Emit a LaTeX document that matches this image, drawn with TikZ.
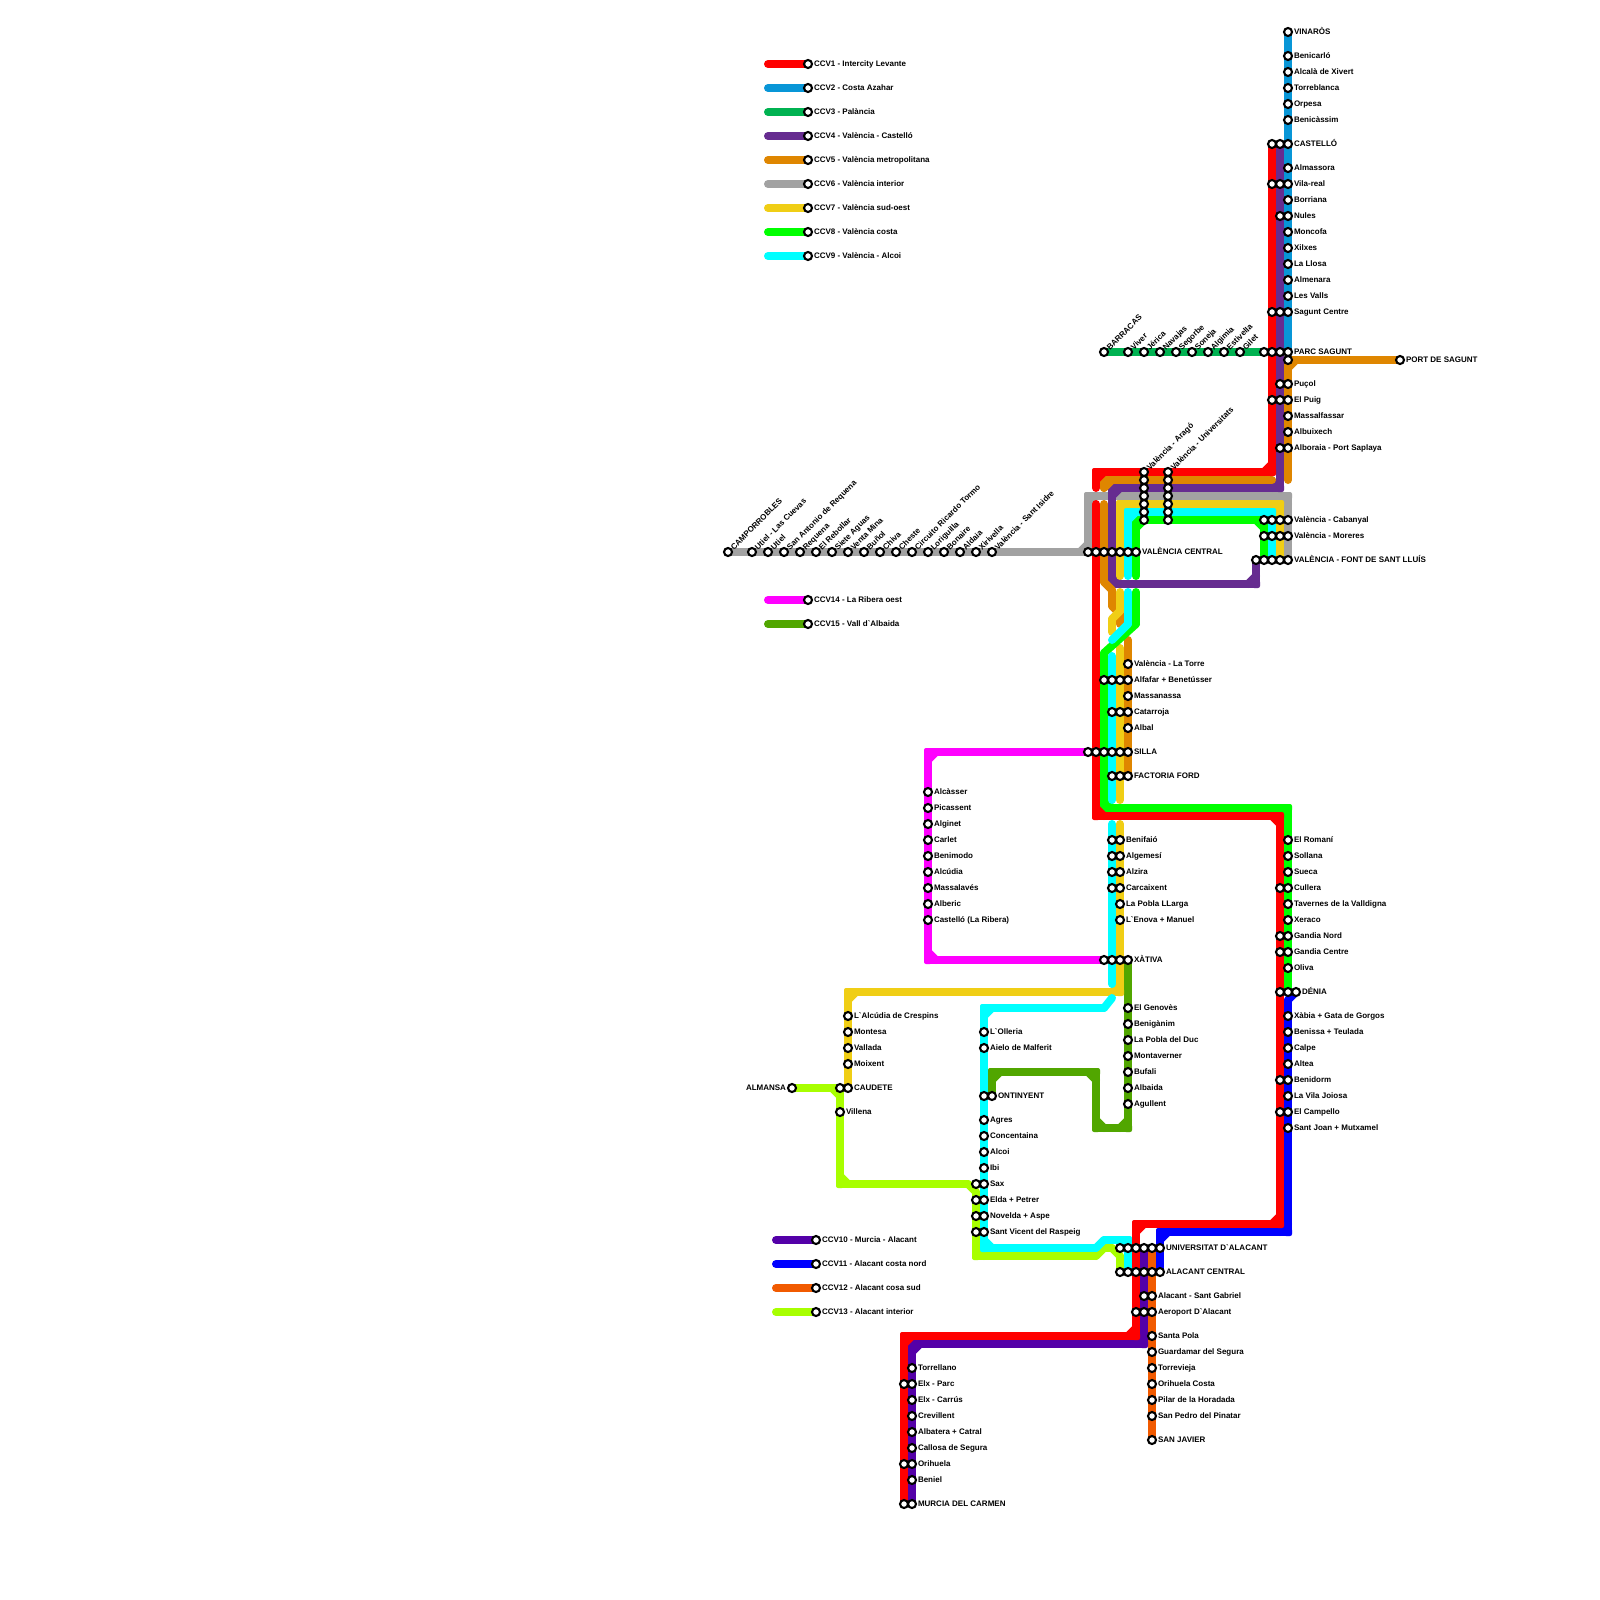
\documentclass[tikz,border=0pt]{standalone}
\usepackage{fontspec}
\usetikzlibrary{calc}
\newfontfamily\mapfont{Liberation Sans}
\definecolor{ccvA}{HTML}{FF0000}
\definecolor{ccvB}{HTML}{0896D7}
\definecolor{ccvC}{HTML}{00B251}
\definecolor{ccvD}{HTML}{662C90}
\definecolor{ccvE}{HTML}{DF8600}
\definecolor{ccvF}{HTML}{A2A2A2}
\definecolor{ccvG}{HTML}{F0CE15}
\definecolor{ccvH}{HTML}{00FF00}
\definecolor{ccvI}{HTML}{00FFFF}
\definecolor{ccvJ}{HTML}{5400A8}
\definecolor{ccvK}{HTML}{0000FF}
\definecolor{ccvL}{HTML}{F15A00}
\definecolor{ccvM}{HTML}{A8FF00}
\definecolor{ccvN}{HTML}{FF00FF}
\definecolor{ccvO}{HTML}{51A600}
\tikzset{
  ml/.style={line width=8pt,line cap=round,line join=round},
  stn/.style={circle,draw=black,fill=white,line width=2.1pt,minimum size=8pt,inner sep=0pt,outer sep=0pt},
  lab/.style={font=\mapfont\bfseries\fontsize{8}{9}\selectfont,text=black,inner sep=0pt,outer sep=0pt},
}
% orthogonal run: segments, chamfered inner corners, nearly square outer corners
\newcommand\Lin[2]{%
  \gdef\LNa{}\gdef\LNb{}%
  \foreach \LNc in {#2}{%
    \ifx\LNa\empty\else
      \draw[ml,#1] (\LNa) -- (\LNc);
      \ifx\LNb\empty\else
        \draw[ml,#1] ($(\LNa)!8pt!(\LNb)$) -- ($(\LNa)!8pt!(\LNc)$);
        \fill[#1,rounded corners=2pt] ($(\LNa)+(-4,-4)$) rectangle ($(\LNa)+(4,4)$);
      \fi
    \fi
    \global\let\LNb\LNa
    \xdef\LNa{\LNc}%
  }}
% run with diagonal segments: plain round joins
\newcommand\LinD[2]{%
  \gdef\LNa{}%
  \foreach \LNc in {#2}{%
    \ifx\LNa\empty\else\draw[ml,#1] (\LNa) -- (\LNc);\fi
    \xdef\LNa{\LNc}%
  }}
\newcommand\Sn[2]{\node[stn] (s#1-#2) at (#1,#2) {};}
\newcommand\St[3]{\Sn{#1}{#2}\node[lab,anchor=base west] (t#1-#2) at ($(#1,#2)+(6,2.4)$) {#3};}
\newcommand\Sr[3]{\Sn{#1}{#2}\node[lab,anchor=base west,rotate=45] (t#1-#2) at ($(#1,#2)+(6,-1.5)$) {#3};}
\begin{document}
\begin{tikzpicture}[x=1pt,y=-1pt]
\useasboundingbox (0,0) rectangle (1600,1600);
\fill[white] (0,0) rectangle (1600,1600);
% way points
\foreach \n/\x/\y in {
 aA/1272/144,aB/1272/472,aC/1096/472,aD/1096/488,
 aE/1096/504,aF/1096/816,aG/1280/816,aH/1280/1224,aI/1136/1224,aJ/1136/1336,aK/904/1336,aL/904/1504,
 bA/1288/32,bB/1288/352,
 cA/1104/352,cB/1264/352,
 dA/1280/144,dB/1280/488,dC/1112/488,dD/1112/584,dE/1256/584,dF/1256/560,
 eA/1400/360,eB/1288/360,eC/1288/480,
 eD/1272/480,eE/1104/480,eF/1104/488,
 eG/1104/504,eH/1104/582,eI/1112/590,eJ/1112/606,eK/1120/614,eL/1120/624,
 eM/1128/640,eN/1128/776,
 fA/728/552,fB/1088/552,fC/1088/496,fD/1288/496,fE/1288/560,
 gA/1120/576,gB/1120/504,gC/1280/504,gD/1280/560,
 gE/1120/592,gF/1120/611,gG/1112/619,gH/1112/632,
 gI/1120/648,gJ/1120/800,
 gK/1120/824,gL/1120/992,gM/848/992,gN/848/1088,
 hA/1136/576,hB/1136/520,hC/1264/520,hD/1264/560,
 hE/1136/592,hF/1136/624,hG/1104/653,hH/1104/808,hI/1288/808,hJ/1288/992,
 iA/1128/576,iB/1128/512,iC/1272/512,iD/1272/560,
 iE/1128/592,iF/1128/624,iG/1112/640,
 iH/1112/656,iI/1112/800,
 iJ/1112/824,iK/1112/984,
 iL/1112/998,iM/1104/1008,iN/984/1008,iO/984/1248,iP/1096/1248,iQ/1104/1240,iR/1128/1240,iS/1128/1272,
 jA/1144/1248,jB/1144/1344,jC/912/1344,jD/912/1504,
 kA/1296/992,kB/1288/1000,kC/1288/1232,kD/1160/1232,kE/1160/1272,
 lA/1152/1248,lB/1152/1440,
 mA/792/1088,mB/840/1088,mC/840/1184,mD/968/1184,mE/976/1192,mF/976/1256,mG/1096/1256,mH/1104/1248,mI/1112/1248,mJ/1120/1256,mK/1120/1272,
 nA/1088/752,nB/928/752,nC/928/960,nD/1104/960,
 oA/992/1096,oB/992/1072,oC/1096/1072,oD/1096/1128,oE/1128/1128,oF/1128/960,
 xA/768/64,xB/808/64,xC/768/88,xD/808/88,xE/768/112,xF/808/112,xG/768/136,xH/808/136,xI/768/160,xJ/808/160,
 xK/768/184,xL/808/184,xM/768/208,xN/808/208,xO/768/232,xP/808/232,xQ/768/256,xR/808/256,
 xS/768/600,xT/808/600,xU/768/624,xV/808/624,
 yA/776/1240,yB/816/1240,yC/776/1264,yD/816/1264,yE/776/1288,yF/816/1288,yG/776/1312,yH/816/1312}
 \coordinate (\n) at (\x,\y);
% lines
\Lin{ccvC}{cA,cB}
\Lin{ccvB}{bA,bB}
\Lin{ccvF}{fA,fB,fC,fD,fE}
\Lin{ccvO}{oA,oB,oC,oD,oE,oF}
\Lin{ccvN}{nA,nB,nC,nD}
\Lin{ccvM}{mA,mB,mC,mD}
\LinD{ccvM}{mD,mE}
\Lin{ccvM}{mE,mF,mG}
\LinD{ccvM}{mG,mH,mI,mJ,mK}
\Lin{ccvL}{lA,lB}
\Lin{ccvK}{kB,kC,kD,kE}
\LinD{ccvK}{kA,kB}
\Lin{ccvJ}{jA,jB,jC,jD}
\Lin{ccvD}{dA,dB,dC,dD,dE,dF}
\Lin{ccvE}{eA,eB,eC}
\Lin{ccvE}{eD,eE,eF}
\LinD{ccvE}{eG,eH,eI,eJ,eK,eL}
\Lin{ccvE}{eM,eN}
\Lin{ccvG}{gA,gB,gC,gD}
\LinD{ccvG}{gE,gF,gG,gH}
\Lin{ccvG}{gI,gJ}
\Lin{ccvG}{gK,gL,gM,gN}
\Lin{ccvH}{hA,hB,hC,hD}
\LinD{ccvH}{hE,hF,hG}
\Lin{ccvH}{hG,hH,hI,hJ}
\Lin{ccvI}{iA,iB,iC,iD}
\LinD{ccvI}{iE,iF,iG}
\Lin{ccvI}{iH,iI}
\Lin{ccvI}{iJ,iK}
\LinD{ccvI}{iL,iM}
\Lin{ccvI}{iM,iN,iO,iP}
\LinD{ccvI}{iP,iQ}
\Lin{ccvI}{iQ,iR,iS}
\Lin{ccvA}{aA,aB,aC,aD}
\Lin{ccvA}{aE,aF,aG,aH,aI,aJ,aK,aL}
% legend
\Lin{ccvA}{xA,xB}\Lin{ccvB}{xC,xD}\Lin{ccvC}{xE,xF}\Lin{ccvD}{xG,xH}\Lin{ccvE}{xI,xJ}
\Lin{ccvF}{xK,xL}\Lin{ccvG}{xM,xN}\Lin{ccvH}{xO,xP}\Lin{ccvI}{xQ,xR}
\Lin{ccvN}{xS,xT}\Lin{ccvO}{xU,xV}
\Lin{ccvJ}{yA,yB}\Lin{ccvK}{yC,yD}\Lin{ccvL}{yE,yF}\Lin{ccvM}{yG,yH}
\St{808}{64}{CCV1 - Intercity Levante}
\St{808}{88}{CCV2 - Costa Azahar}
\St{808}{112}{CCV3 - Palància}
\St{808}{136}{CCV4 - València - Castelló}
\St{808}{160}{CCV5 - València metropolitana}
\St{808}{184}{CCV6 - València interior}
\St{808}{208}{CCV7 - València sud-oest}
\St{808}{232}{CCV8 - València costa}
\St{808}{256}{CCV9 - València - Alcoi}
\St{808}{600}{CCV14 - La Ribera oest}
\St{808}{624}{CCV15 - Vall d`Albaida}
\St{816}{1240}{CCV10 - Murcia - Alacant}
\St{816}{1264}{CCV11 - Alacant costa nord}
\St{816}{1288}{CCV12 - Alacant cosa sud}
\St{816}{1312}{CCV13 - Alacant interior}
% north coast
\St{1288}{32}{VINARÒS}
\St{1288}{56}{Benicarló}
\St{1288}{72}{Alcalà de Xivert}
\St{1288}{88}{Torreblanca}
\St{1288}{104}{Orpesa}
\St{1288}{120}{Benicàssim}
\Sn{1272}{144}\Sn{1280}{144}\St{1288}{144}{CASTELLÓ}
\St{1288}{168}{Almassora}
\Sn{1272}{184}\Sn{1280}{184}\St{1288}{184}{Vila-real}
\St{1288}{200}{Borriana}
\Sn{1280}{216}\St{1288}{216}{Nules}
\St{1288}{232}{Moncofa}
\St{1288}{248}{Xilxes}
\St{1288}{264}{La Llosa}
\St{1288}{280}{Almenara}
\St{1288}{296}{Les Valls}
\Sn{1272}{312}\Sn{1280}{312}\St{1288}{312}{Sagunt Centre}
\Sn{1264}{352}\Sn{1272}{352}\Sn{1280}{352}\St{1288}{352}{PARC SAGUNT}
\Sn{1288}{360}
\St{1400}{360}{PORT DE SAGUNT}
\Sn{1280}{384}\St{1288}{384}{Puçol}
\Sn{1272}{400}\Sn{1280}{400}\St{1288}{400}{El Puig}
\St{1288}{416}{Massalfassar}
\St{1288}{432}{Albuixech}
\Sn{1280}{448}\St{1288}{448}{Alboraia - Port Saplaya}
% Palància
\Sr{1104}{352}{BARRACAS}
\Sr{1128}{352}{Viver}
\Sr{1144}{352}{Jérica}
\Sr{1160}{352}{Navajas}
\Sr{1176}{352}{Segorbe}
\Sr{1192}{352}{Soneja}
\Sr{1208}{352}{Algimia}
\Sr{1224}{352}{Estivella}
\Sr{1240}{352}{Gilet}
% València loop
\Sr{1144}{472}{València - Aragó}
\Sr{1168}{472}{València - Universitats}
\foreach \yy in {480,488,496,504,512,520}{\Sn{1144}{\yy}\Sn{1168}{\yy}}
\Sn{1264}{520}\Sn{1272}{520}\Sn{1280}{520}\St{1288}{520}{València - Cabanyal}
\Sn{1264}{536}\Sn{1272}{536}\Sn{1280}{536}\St{1288}{536}{València - Moreres}
\Sn{1256}{560}\Sn{1264}{560}\Sn{1272}{560}\Sn{1280}{560}\St{1288}{560}{VALÈNCIA - FONT DE SANT LLUÍS}
% interior
\Sr{728}{552}{CAMPORROBLES}
\Sr{752}{552}{Utiel - Las Cuevas}
\Sr{768}{552}{Utiel}
\Sr{784}{552}{San Antonio de Requena}
\Sr{800}{552}{Requena}
\Sr{816}{552}{El Rebollar}
\Sr{832}{552}{Siete Aguas}
\Sr{848}{552}{Venta Mina}
\Sr{864}{552}{Buñol}
\Sr{880}{552}{Chiva}
\Sr{896}{552}{Cheste}
\Sr{912}{552}{Circuito Ricardo Tormo}
\Sr{928}{552}{Loriguilla}
\Sr{944}{552}{Bonaire}
\Sr{960}{552}{Aldaia}
\Sr{976}{552}{Xirivella}
\Sr{992}{552}{València - Sant Isidre}
\Sn{1088}{552}\Sn{1096}{552}\Sn{1104}{552}\Sn{1112}{552}\Sn{1120}{552}\Sn{1128}{552}\St{1136}{552}{VALÈNCIA CENTRAL}
% south of València
\St{1128}{664}{València - La Torre}
\Sn{1104}{680}\Sn{1112}{680}\Sn{1120}{680}\St{1128}{680}{Alfafar + Benetússer}
\St{1128}{696}{Massanassa}
\Sn{1112}{712}\Sn{1120}{712}\St{1128}{712}{Catarroja}
\St{1128}{728}{Albal}
\Sn{1088}{752}\Sn{1096}{752}\Sn{1104}{752}\Sn{1112}{752}\Sn{1120}{752}\St{1128}{752}{SILLA}
\Sn{1112}{776}\Sn{1120}{776}\St{1128}{776}{FACTORIA FORD}
\Sn{1112}{840}\St{1120}{840}{Benifaió}
\Sn{1112}{856}\St{1120}{856}{Algemesí}
\Sn{1112}{872}\St{1120}{872}{Alzira}
\Sn{1112}{888}\St{1120}{888}{Carcaixent}
\St{1120}{904}{La Pobla LLarga}
\St{1120}{920}{L`Enova + Manuel}
\Sn{1104}{960}\Sn{1112}{960}\Sn{1120}{960}\St{1128}{960}{XÀTIVA}
% La Ribera
\St{928}{792}{Alcàsser}
\St{928}{808}{Picassent}
\St{928}{824}{Alginet}
\St{928}{840}{Carlet}
\St{928}{856}{Benimodo}
\St{928}{872}{Alcúdia}
\St{928}{888}{Massalavés}
\St{928}{904}{Alberic}
\St{928}{920}{Castelló (La Ribera)}
% Vall d'Albaida
\St{1128}{1008}{El Genovès}
\St{1128}{1024}{Benigànim}
\St{1128}{1040}{La Pobla del Duc}
\St{1128}{1056}{Montaverner}
\St{1128}{1072}{Bufali}
\St{1128}{1088}{Albaida}
\St{1128}{1104}{Agullent}
% south coast
\St{1288}{840}{El Romaní}
\St{1288}{856}{Sollana}
\St{1288}{872}{Sueca}
\Sn{1280}{888}\St{1288}{888}{Cullera}
\St{1288}{904}{Tavernes de la Valldigna}
\St{1288}{920}{Xeraco}
\Sn{1280}{936}\St{1288}{936}{Gandia Nord}
\Sn{1280}{952}\St{1288}{952}{Gandia Centre}
\St{1288}{968}{Oliva}
\Sn{1280}{992}\Sn{1288}{992}\St{1296}{992}{DÉNIA}
\St{1288}{1016}{Xàbia + Gata de Gorgos}
\St{1288}{1032}{Benissa + Teulada}
\St{1288}{1048}{Calpe}
\St{1288}{1064}{Altea}
\Sn{1280}{1080}\St{1288}{1080}{Benidorm}
\St{1288}{1096}{La Vila Joiosa}
\Sn{1280}{1112}\St{1288}{1112}{El Campello}
\St{1288}{1128}{Sant Joan + Mutxamel}
% sud-oest
\St{848}{1016}{L`Alcúdia de Crespins}
\St{848}{1032}{Montesa}
\St{848}{1048}{Vallada}
\St{848}{1064}{Moixent}
\Sn{840}{1088}\St{848}{1088}{CAUDETE}
\Sn{792}{1088}\node[lab,anchor=base east] (tALM) at ($(792,1088)+(-6,2.4)$) {ALMANSA};
\St{840}{1112}{Villena}
% Alcoi
\St{984}{1032}{L`Olleria}
\St{984}{1048}{Aielo de Malferit}
\Sn{984}{1096}\St{992}{1096}{ONTINYENT}
\St{984}{1120}{Agres}
\St{984}{1136}{Concentaina}
\St{984}{1152}{Alcoi}
\St{984}{1168}{Ibi}
\Sn{976}{1184}\St{984}{1184}{Sax}
\Sn{976}{1200}\St{984}{1200}{Elda + Petrer}
\Sn{976}{1216}\St{984}{1216}{Novelda + Aspe}
\Sn{976}{1232}\St{984}{1232}{Sant Vicent del Raspeig}
% Alacant
\Sn{1120}{1248}\Sn{1128}{1248}\Sn{1136}{1248}\Sn{1144}{1248}\Sn{1152}{1248}\St{1160}{1248}{UNIVERSITAT D`ALACANT}
\Sn{1120}{1272}\Sn{1128}{1272}\Sn{1136}{1272}\Sn{1144}{1272}\Sn{1152}{1272}\St{1160}{1272}{ALACANT CENTRAL}
\Sn{1144}{1296}\St{1152}{1296}{Alacant - Sant Gabriel}
\Sn{1136}{1312}\Sn{1144}{1312}\St{1152}{1312}{Aeroport D`Alacant}
\St{1152}{1336}{Santa Pola}
\St{1152}{1352}{Guardamar del Segura}
\St{1152}{1368}{Torrevieja}
\St{1152}{1384}{Orihuela Costa}
\St{1152}{1400}{Pilar de la Horadada}
\St{1152}{1416}{San Pedro del Pinatar}
\St{1152}{1440}{SAN JAVIER}
% Murcia
\St{912}{1368}{Torrellano}
\Sn{904}{1384}\St{912}{1384}{Elx - Parc}
\St{912}{1400}{Elx - Carrús}
\St{912}{1416}{Crevillent}
\St{912}{1432}{Albatera + Catral}
\St{912}{1448}{Callosa de Segura}
\Sn{904}{1464}\St{912}{1464}{Orihuela}
\St{912}{1480}{Beniel}
\Sn{904}{1504}\St{912}{1504}{MURCIA DEL CARMEN}
\end{tikzpicture}
\end{document}
